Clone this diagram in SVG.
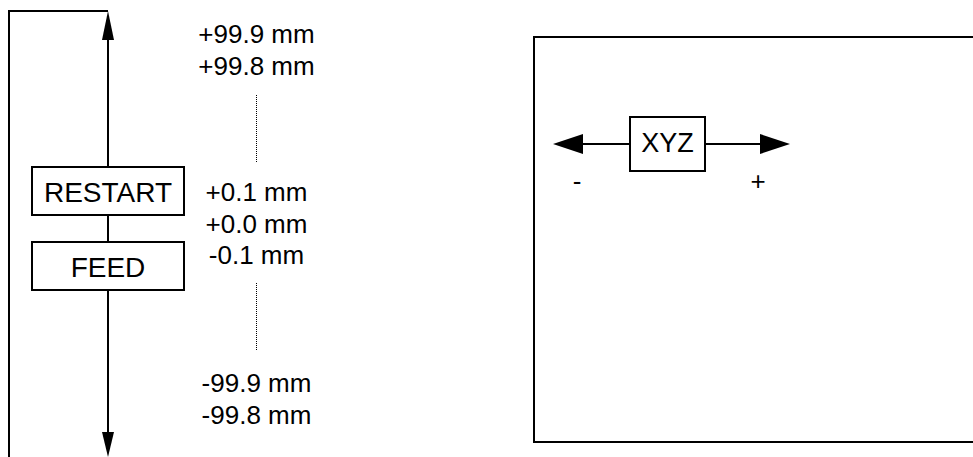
<svg xmlns="http://www.w3.org/2000/svg" width="973" height="457" viewBox="0 0 973 457">
<style>
.ln{stroke:#000;stroke-width:2;fill:none}
.box{stroke:#000;stroke-width:2;fill:#fff}
.dot{stroke:#000;stroke-width:1;stroke-dasharray:1 1;fill:none}
text{font-family:"Liberation Sans",Arial,sans-serif;fill:#000}
.t{font-size:26px;text-anchor:middle}
.b{font-size:28px;text-anchor:middle}
</style>
<rect width="973" height="457" fill="#fff"/>
<g id="connectors">
<path class="ln" d="M9,457 V11 H108"/>
<path class="ln" d="M108,38 V433"/>
<polygon points="108,11 114,40 102,40" fill="#000"/>
<polygon points="108,457 114,432 102,432" fill="#000"/>
<path class="ln" d="M582,144 H630 M705,144 H761"/>
<polygon points="553,144 583,134 583,154" fill="#000"/>
<polygon points="790,144 760,134 760,154" fill="#000"/>
<path class="dot" d="M256.5,95 V162 M256.5,283 V350"/>
</g>
<g id="frame">
<rect x="534" y="37" width="445" height="405" class="ln"/>
</g>
<g id="restart">
<rect x="32" y="167" width="152" height="48" class="box"/>
<text class="b" x="108" y="202">RESTART</text>
</g>
<g id="feed">
<rect x="32" y="242" width="152" height="48" class="box"/>
<text class="b" x="108" y="277">FEED</text>
</g>
<g id="xyz">
<rect x="630" y="117" width="75" height="54" class="box"/>
<text class="b" x="667.5" y="152" style="font-size:27px">XYZ</text>
</g>
<g id="labels">
<text class="t" x="256.5" y="42.5">+99.9 mm</text>
<text class="t" x="256.5" y="75">+99.8 mm</text>
<text class="t" x="256.5" y="201">+0.1 mm</text>
<text class="t" x="256.5" y="233">+0.0 mm</text>
<text class="t" x="256.5" y="264">-0.1 mm</text>
<text class="t" x="256.5" y="392">-99.9 mm</text>
<text class="t" x="256.5" y="424">-99.8 mm</text>
<text class="t" x="577" y="190">-</text>
<text class="t" x="758" y="190">+</text>
</g>
</svg>
